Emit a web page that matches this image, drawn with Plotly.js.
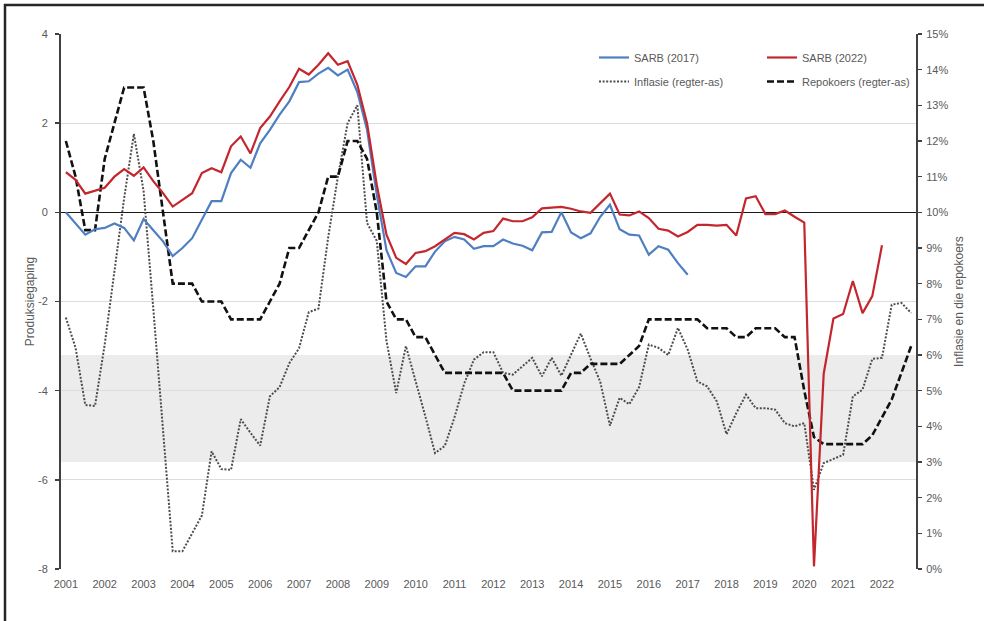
<!DOCTYPE html>
<html>
<head>
<meta charset="utf-8">
<script src="https://cdn.plot.ly/plotly-3.0.1.min.js"></script>
<style>html,body{margin:0;padding:0;background:#fff;}#chart{width:984px;height:621px;}</style>
</head>
<body>
<div id="chart"></div>
<script>
// Quarterly data, 2001Q1 .. 2022Q4
var firstYear = 2001;
var yearLabels = ["2001","2002","2003","2004","2005","2006","2007","2008","2009","2010","2011","2012","2013","2014","2015","2016","2017","2018","2019","2020","2021","2022"];

// Output gap, SARB (2017) estimate, 2001Q1..2017Q1 (left axis)
var sarb2017 = [0.00,-0.25,-0.50,-0.38,-0.35,-0.25,-0.35,-0.63,-0.15,-0.40,-0.65,-0.98,-0.80,-0.58,-0.15,0.25,
  0.25,0.88,1.18,1.00,1.55,1.85,2.19,2.49,2.92,2.94,3.11,3.24,3.07,3.20,2.70,1.85,
  0.40,-0.85,-1.36,-1.45,-1.21,-1.21,-0.88,-0.65,-0.55,-0.61,-0.82,-0.76,-0.76,-0.61,-0.70,-0.75,
  -0.85,-0.45,-0.44,0.00,-0.45,-0.58,-0.47,-0.10,0.17,-0.38,-0.50,-0.52,-0.95,-0.76,-0.84,-1.14,
  -1.40];

// Output gap, SARB (2022) estimate, 2001Q1..2022Q1 (left axis)
var sarb2022 = [0.90,0.73,0.42,0.48,0.55,0.80,0.97,0.82,1.01,0.70,0.43,0.13,0.28,0.43,0.88,0.99,
  0.90,1.48,1.70,1.32,1.89,2.15,2.49,2.81,3.22,3.09,3.31,3.57,3.31,3.39,2.86,2.00,
  0.62,-0.50,-1.02,-1.16,-0.91,-0.87,-0.76,-0.61,-0.46,-0.49,-0.61,-0.46,-0.42,-0.14,-0.20,-0.20,
  -0.11,0.09,0.10,0.12,0.08,0.02,-0.01,0.20,0.42,-0.05,-0.07,0.02,-0.13,-0.37,-0.41,-0.54,
  -0.44,-0.28,-0.28,-0.30,-0.28,-0.52,0.31,0.36,-0.04,-0.04,0.04,-0.10,-0.23,-7.94,-3.62,-2.38,
  -2.28,-1.54,-2.26,-1.88,-0.74];

// Inflation (%), right axis
var inflasie = [7.05,6.20,4.60,4.57,6.30,8.40,10.40,12.20,10.60,7.30,3.90,0.50,0.50,1.00,1.50,3.30,
  2.80,2.78,4.20,3.82,3.46,4.84,5.10,5.77,6.19,7.20,7.30,9.30,11.00,12.50,13.00,9.70,
  9.20,6.40,4.93,6.25,5.30,4.28,3.25,3.45,4.25,5.20,5.87,6.08,6.08,5.50,5.45,5.68,
  5.92,5.40,5.92,5.42,6.02,6.60,5.90,5.25,4.02,4.80,4.62,5.10,6.29,6.20,6.00,6.76,
  6.15,5.26,5.12,4.70,3.78,4.37,4.89,4.51,4.51,4.47,4.09,4.00,4.09,2.22,2.97,3.08,
  3.20,4.84,5.03,5.89,5.92,7.41,7.46,7.18];

// Repo rate (%), right axis
var repokoers = [12.0,11.0,9.5,9.5,11.5,12.5,13.5,13.5,13.5,12.0,10.0,8.0,8.0,8.0,7.5,7.5,
  7.5,7.0,7.0,7.0,7.0,7.5,8.0,9.0,9.0,9.5,10.0,11.0,11.0,12.0,12.0,11.5,
  10.0,7.5,7.0,7.0,6.5,6.5,6.0,5.5,5.5,5.5,5.5,5.5,5.5,5.5,5.0,5.0,
  5.0,5.0,5.0,5.0,5.5,5.5,5.75,5.75,5.75,5.75,6.0,6.25,7.0,7.0,7.0,7.0,
  7.0,7.0,6.75,6.75,6.75,6.5,6.5,6.75,6.75,6.75,6.5,6.5,5.0,3.7,3.5,3.5,
  3.5,3.5,3.5,3.75,4.25,4.75,5.5,6.25];

// Inflation target band (%)
var targetLow = 3, targetHigh = 6;

var leftTicks = [4,2,0,-2,-4,-6,-8];
var leftTickText = ["4","2","0","-2","-4","-6","-8"];

function quarterX(n){ var a=[]; for(var i=0;i<n;i++){ a.push(firstYear + i/4); } return a; }
var yearVals = yearLabels.map(function(s){ return +s; });

var grey = '#595959';
var font = 'Liberation Sans, Arial, sans-serif';

var traces = [
  {x: quarterX(inflasie.length), y: inflasie, name: 'Inflasie (regter-as)', type:'scatter', mode:'lines',
   yaxis:'y', legend:'legend', legendgroup:'g2', legendrank: 2,
   line:{color:'#4d4d4d', width:2, dash:'2px,1.6px'}},
  {x: quarterX(repokoers.length), y: repokoers, name: 'Repokoers (regter-as)', type:'scatter', mode:'lines',
   yaxis:'y', legend:'legend2', legendgroup:'g4', legendrank: 2,
   line:{color:'#111111', width:2.6, dash:'7px,3px'}},
  {x: quarterX(sarb2017.length), y: sarb2017, name: 'SARB (2017)', type:'scatter', mode:'lines',
   yaxis:'y2', legend:'legend', legendgroup:'g1', legendrank: 1,
   line:{color:'#4f7fc0', width:2.2}},
  {x: quarterX(sarb2022.length), y: sarb2022, name: 'SARB (2022)', type:'scatter', mode:'lines',
   yaxis:'y2', legend:'legend2', legendgroup:'g3', legendrank: 1,
   line:{color:'#c4262e', width:2.2}}
];

var L = 61, R = 68, T = 34, B = 52, W = 984, H = 621;
var pw = W - L - R, ph = H - T - B;
function px2x(p){ return (p - L)/pw; }
function py2y(p){ return (H - B - p)/ph; }

var layout = {
  width: W, height: H,
  margin: {l:L, r:R, t:T, b:B, pad:0},
  paper_bgcolor:'#ffffff', plot_bgcolor:'#ffffff',
  font: {family: font, size: 11, color: grey},
  showlegend: true,
  xaxis: {
    range: [firstYear - 0.125, 2022.875],
    tickmode:'array', tickvals: yearVals, ticktext: yearLabels,
    showgrid:false, zeroline:false, showline:false, ticks:'', ticklabelstandoff: 7,
    tickfont:{size:11, color:grey, family:font}
  },
  yaxis: {
    side:'right', range:[0,15], dtick:1, ticksuffix:'%',
    showgrid:false, zeroline:false,
    showline:true, linecolor:'#404040', linewidth:2,
    ticks:'outside', ticklen:4, tickcolor:'#404040', tickwidth:1.5, ticklabelstandoff: 2,
    tickfont:{size:11, color:grey, family:font},
    title:{text:'Inflasie en die repokoers', font:{size:12, color:grey, family:font}, standoff:7}
  },
  yaxis2: {
    overlaying:'y', side:'left', range:[-8,4],
    tickmode:'array', tickvals: leftTicks, ticktext: leftTickText,
    showgrid:true, gridcolor:'#dcdcdc', gridwidth:1,
    zeroline:true, zerolinecolor:'#1a1a1a', zerolinewidth:1.6,
    showline:true, linecolor:'#404040', linewidth:2,
    ticks:'outside', ticklen:4, tickcolor:'#404040', tickwidth:1.5, ticklabelstandoff: 5,
    tickfont:{size:11, color:grey, family:font},
    title:{text:'Produksiegaping', font:{size:12, color:grey, family:font}, standoff:1}
  },
  legend: {x: px2x(594), y: py2y(43), xanchor:'left', yanchor:'top', orientation:'v',
    bgcolor:'rgba(0,0,0,0)', borderwidth:0, tracegroupgap:5, traceorder:'grouped',
    font:{size:11, color:grey, family:font}},
  legend2: {x: px2x(762), y: py2y(43), xanchor:'left', yanchor:'top', orientation:'v',
    bgcolor:'rgba(0,0,0,0)', borderwidth:0, tracegroupgap:5, traceorder:'grouped',
    font:{size:11, color:grey, family:font}},
  shapes: [
    {type:'rect', xref:'paper', yref:'y', x0:0, x1:1, y0:targetLow, y1:targetHigh,
     fillcolor:'#ececec', line:{width:0}, layer:'below'},
    {type:'line', xref:'paper', yref:'paper', x0:px2x(4), x1:px2x(984), y0:py2y(5), y1:py2y(5),
     line:{color:'#262626', width:2.5}},
    {type:'line', xref:'paper', yref:'paper', x0:px2x(5), x1:px2x(5), y0:py2y(4), y1:py2y(621),
     line:{color:'#262626', width:2.5}}
  ]
};

Plotly.newPlot('chart', traces, layout, {displayModeBar:false, staticPlot:true});
</script>
</body>
</html>
